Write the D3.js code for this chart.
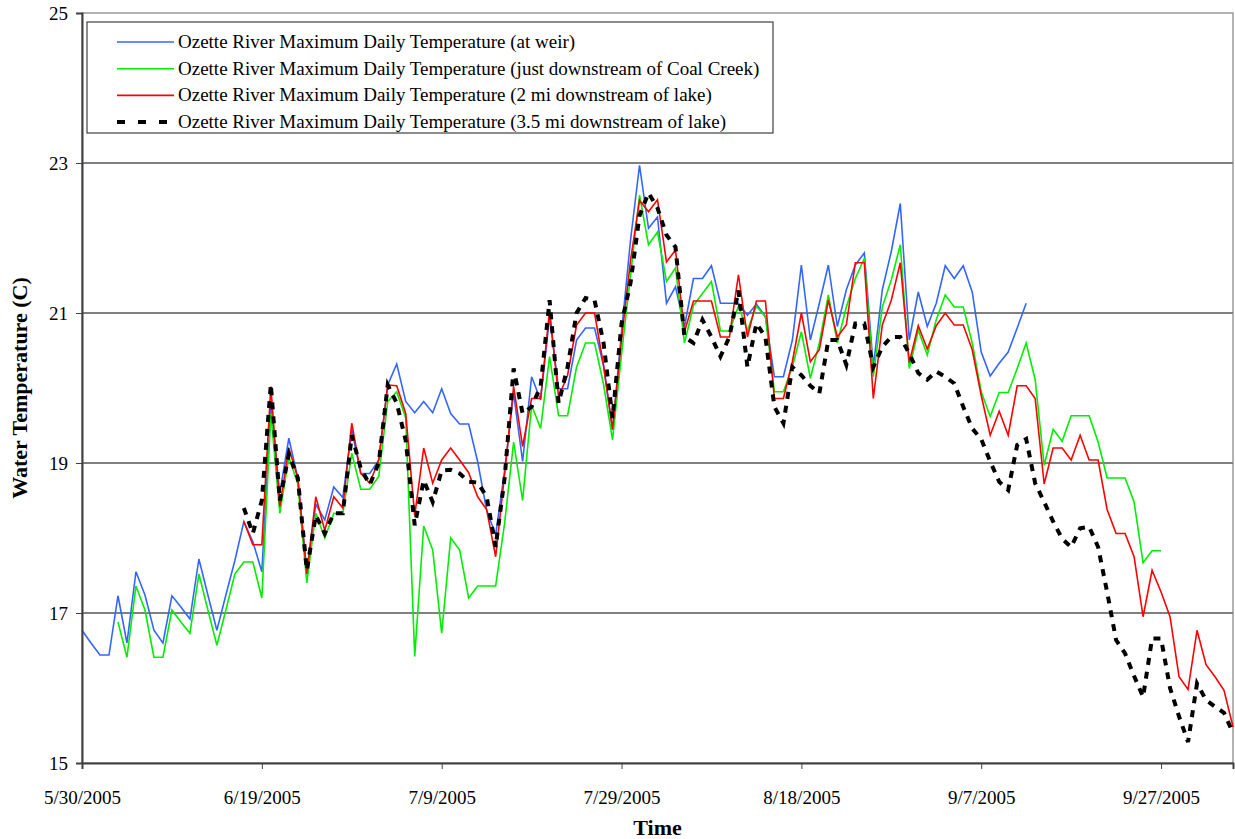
<!DOCTYPE html>
<html>
<head>
<meta charset="utf-8">
<script src="https://cdn.jsdelivr.net/npm/d3@7"></script>
<style>
  body { margin: 0; background: #fff; }
  svg { display: block; }
  text { font-family: "Liberation Serif", "Times New Roman", serif; }
</style>
</head>
<body>
<svg id="chart" width="1235" height="839"></svg>
<script>
// ---------- DATA (daily maximum water temperature, °C) ----------
const seriesNames = [
  "Ozette River Maximum Daily Temperature (at weir)",
  "Ozette River Maximum Daily Temperature (just downstream of Coal Creek)",
  "Ozette River Maximum Daily Temperature (2 mi downstream of lake)",
  "Ozette River Maximum Daily Temperature (3.5 mi downstream of lake)"
];
// first date of each series (consecutive daily readings follow)
const seriesStart = ["2005-05-30", "2005-06-03", "2005-06-17", "2005-06-17"];

const weir = [
  16.77, 16.6, 16.44, 16.44, 17.23, 16.6, 17.55, 17.24, 16.77, 16.6,
  17.23, 17.08, 16.92, 17.72, 17.24, 16.77, 17.24, 17.7, 18.22, 17.95,
  17.55, 19.75, 18.6, 19.33, 18.8, 17.55, 18.45, 18.24, 18.68, 18.54,
  19.44, 18.86, 18.86, 19.04, 20.04, 20.32, 19.82, 19.67, 19.82, 19.67,
  19.99, 19.66, 19.52, 19.52, 19.02, 18.37, 18.04, 18.9, 19.93, 19.02,
  20.15, 19.84, 20.95, 19.99, 19.99, 20.64, 20.8, 20.8, 20.3, 19.44,
  20.75, 21.97, 22.97, 22.13, 22.28, 21.13, 21.35, 20.82, 21.46, 21.46,
  21.63, 21.13, 21.13, 21.13, 20.97, 21.12, 20.95, 20.15, 20.15, 20.64,
  21.64, 20.64, 21.13, 21.64, 20.82, 21.31, 21.64, 21.8, 20.28, 21.31,
  21.82, 22.46, 20.64, 21.28, 20.82, 21.13, 21.63, 21.46, 21.63, 21.28,
  20.48, 20.16, 20.33, 20.48, 20.8, 21.13
];
const coalCreek = [
  16.88, 16.41, 17.36, 17.04, 16.41, 16.41, 17.04, 16.88, 16.73, 17.52,
  17.04, 16.57, 17.04, 17.52, 17.68, 17.68, 17.2, 19.66, 18.33, 19.08,
  18.72, 17.4, 18.33, 18.0, 18.33, 18.32, 19.13, 18.65, 18.65, 18.82,
  19.82, 19.95, 19.6, 16.42, 18.16, 17.84, 16.73, 18.0, 17.84, 17.2,
  17.36, 17.36, 17.36, 18.2, 19.28, 18.5, 19.77, 19.46, 20.42, 19.63,
  19.63, 20.28, 20.6, 20.6, 20.05, 19.31, 20.45, 21.5, 22.57, 21.91,
  22.08, 21.42, 21.6, 20.6, 21.1, 21.26, 21.42, 20.76, 20.76, 21.09,
  20.77, 21.09, 20.95, 19.95, 19.95, 20.28, 20.75, 20.13, 20.6, 21.24,
  20.6, 21.08, 21.46, 21.73, 20.15, 21.08, 21.44, 21.91, 20.26, 20.77,
  20.44, 20.91, 21.24, 21.08, 21.08, 20.6, 19.95, 19.62, 19.94, 19.94,
  20.26, 20.6, 20.11, 18.97, 19.45, 19.29, 19.63, 19.63, 19.63, 19.28,
  18.8, 18.8, 18.8, 18.48, 17.67, 17.83, 17.83
];
const twoMile = [
  18.22, 17.91, 17.91, 20.02, 18.42, 19.2, 18.8, 17.52, 18.55, 18.1,
  18.55, 18.4, 19.53, 18.86, 18.73, 19.04, 20.04, 20.03, 19.66, 18.3,
  19.2, 18.73, 19.04, 19.2, 19.04, 18.87, 18.55, 18.38, 17.75, 18.85,
  20.02, 19.22, 19.86, 19.86, 21.04, 19.88, 20.17, 20.84, 21.0, 21.0,
  20.3, 19.45, 20.65, 21.7, 22.5, 22.35, 22.51, 21.68, 21.84, 20.75,
  21.16, 21.16, 21.16, 20.68, 20.68, 21.51, 20.68, 21.16, 21.16, 19.86,
  19.86, 20.35, 21.0, 20.35, 20.51, 21.17, 20.68, 20.84, 21.67, 21.67,
  19.86, 20.84, 21.17, 21.67, 20.34, 20.83, 20.52, 20.83, 21.0, 20.84,
  20.84, 20.51, 19.9, 19.37, 19.69, 19.37, 20.03, 20.03, 19.86, 18.72,
  19.2, 19.2, 19.04, 19.37, 19.04, 19.04, 18.38, 18.06, 18.06, 17.75,
  16.95, 17.57, 17.28, 16.95, 16.15, 15.98, 16.77, 16.31, 16.15, 15.97,
  15.48
];
const threeHalfMile = [
  18.4, 18.06, 18.5, 20.05, 18.5, 19.12, 18.8, 17.57, 18.3, 18.06,
  18.33, 18.33, 19.37, 18.93, 18.71, 19.0, 20.04, 19.8, 19.3, 18.17,
  18.77, 18.48, 18.9, 18.91, 18.86, 18.75, 18.74, 18.55, 17.88, 18.8,
  20.26, 19.66, 19.75, 20.02, 21.17, 19.8, 20.28, 21.0, 21.2, 21.17,
  20.6, 19.6, 20.86, 21.4, 22.3, 22.6, 22.4, 22.04, 21.88, 20.68,
  20.6, 20.91, 20.68, 20.42, 20.68, 21.3, 20.28, 20.86, 20.68, 19.75,
  19.53, 20.28, 20.17, 20.03, 19.93, 20.64, 20.64, 20.31, 20.86, 20.86,
  20.28, 20.55, 20.68, 20.68, 20.46, 20.2, 20.11, 20.22, 20.15, 20.06,
  19.75, 19.46, 19.32, 19.02, 18.75, 18.64, 19.24, 19.32, 18.73, 18.48,
  18.22, 17.99, 17.88, 18.13, 18.15, 17.88, 17.28, 16.64, 16.46, 16.16,
  15.88, 16.66, 16.66, 16.0, 15.62, 15.28, 16.06, 15.84, 15.75, 15.67,
  15.4
];
const seriesValues = [weir, coalCreek, twoMile, threeHalfMile];

const xDomain = ["2005-05-30", "2005-10-05"];
const xTickDates = ["2005-05-30", "2005-06-19", "2005-07-09", "2005-07-29", "2005-08-18", "2005-09-07", "2005-09-27"];
const yTicks = [15, 17, 19, 21, 23, 25];
const yDomain = [15, 25];
const xTitle = "Time";
const yTitle = "Water Temperature (C)";

// ---------- STYLE ----------
const colors = ["#3366ff", "#00ee00", "#ff0000", "#000000"];
const widths = [1.6, 1.6, 1.6, 4];
const dashes = [null, null, null, "7,7"];

const parse = d3.utcParse("%Y-%m-%d");
const margin = { left: 82, right: 2, top: 13, bottom: 76 };
const W = 1235, H = 839;

const svg = d3.select("#chart");
const x = d3.scaleUtc().domain(xDomain.map(parse)).range([margin.left, W - margin.right]);
const y = d3.scaleLinear().domain(yDomain).range([H - margin.bottom, margin.top]);

// gridlines
svg.append("g").selectAll("line")
  .data(yTicks.filter(v => v > yDomain[0] && v < yDomain[1]))
  .join("line")
  .attr("x1", x.range()[0]).attr("x2", x.range()[1])
  .attr("y1", d => y(d)).attr("y2", d => y(d))
  .attr("stroke", "#000").attr("stroke-width", 1);

// plot area frame
svg.append("rect")
  .attr("x", x.range()[0]).attr("y", y.range()[1])
  .attr("width", x.range()[1] - x.range()[0])
  .attr("height", y.range()[0] - y.range()[1])
  .attr("fill", "none").attr("stroke", "#808080").attr("stroke-width", 1.2);

// series lines
const line = d3.line().x(d => x(d.date)).y(d => y(d.value));
seriesValues.forEach((vals, i) => {
  const start = parse(seriesStart[i]);
  const pts = vals.map((v, k) => ({ date: d3.utcDay.offset(start, k), value: v }));
  svg.append("path")
    .datum(pts)
    .attr("d", line)
    .attr("fill", "none")
    .attr("stroke", colors[i])
    .attr("stroke-width", widths[i])
    .attr("stroke-dasharray", dashes[i])
    .attr("stroke-linejoin", "miter");
});

// axes
const fmt = d3.utcFormat("%-m/%-d/%Y");
const xAxis = svg.append("g")
  .attr("transform", `translate(0,${y.range()[0]})`)
  .call(d3.axisBottom(x).tickValues(xTickDates.map(parse)).tickFormat(fmt).tickSize(6).tickPadding(22));
const yAxis = svg.append("g")
  .attr("transform", `translate(${x.range()[0]},0)`)
  .call(d3.axisLeft(y).tickValues(yTicks).tickFormat(d3.format("d")).tickSize(6).tickPadding(8));
[xAxis, yAxis].forEach(g => {
  g.select(".domain").attr("stroke", "#404040").attr("stroke-width", 2);
  g.selectAll(".tick line").attr("stroke", "#404040");
  g.selectAll(".tick text").attr("font-family", "Liberation Serif").attr("font-size", 19).attr("fill", "#000");
});

// axis titles
svg.append("text")
  .attr("x", (x.range()[0] + x.range()[1]) / 2).attr("y", 835)
  .attr("text-anchor", "middle").attr("font-size", 22).attr("font-weight", "bold")
  .text(xTitle);
svg.append("text")
  .attr("transform", `translate(27,${(y.range()[0] + y.range()[1]) / 2}) rotate(-90)`)
  .attr("text-anchor", "middle").attr("font-size", 22).attr("font-weight", "bold")
  .text(yTitle);

// legend
const lg = svg.append("g");
lg.append("rect").attr("x", 87).attr("y", 22).attr("width", 686).attr("height", 111)
  .attr("fill", "#fff").attr("stroke", "#404040").attr("stroke-width", 1.2);
seriesNames.forEach((name, i) => {
  const ly = 42 + i * 26.7;
  lg.append("line").attr("x1", 117).attr("x2", 174).attr("y1", ly).attr("y2", ly)
    .attr("stroke", colors[i]).attr("stroke-width", widths[i]).attr("stroke-dasharray", i === 3 ? "8,13" : dashes[i]);
  lg.append("text").attr("x", 178).attr("y", ly + 6).attr("font-size", 19).text(name);
});
</script>
</body>
</html>
